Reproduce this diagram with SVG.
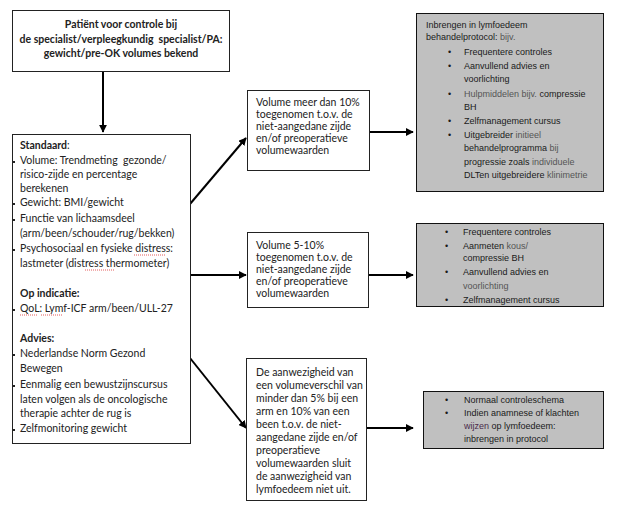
<svg xmlns="http://www.w3.org/2000/svg" width="617" height="513" viewBox="0 0 617 513">
<style>
.box{fill:#fff;stroke:#222;stroke-width:1}
.gbox{fill:#c0c0c0;stroke:#111;stroke-width:1}
.t{font-family:Lato,"Liberation Sans",sans-serif;font-size:10.5px;fill:#222}
.b{font-weight:bold}
.a{font-family:"Liberation Sans",Arial,sans-serif;font-size:9px;fill:#1a1a1a}
.g{fill:#555}
.conn{stroke:#000;stroke-width:2;fill:none}
.sq{fill:#222}
.red{stroke:#d33;stroke-width:0.8;fill:none;stroke-dasharray:1 1}
</style>
<defs>
<marker id="ah" viewBox="0 0 10 10" refX="9" refY="5" markerWidth="4" markerHeight="4" orient="auto" markerUnits="strokeWidth">
<path d="M0,0 L10,5 L0,10 z" fill="#000"/>
</marker>
</defs>

<g id="connectors">
<line class="conn" x1="103" y1="72" x2="103" y2="132" marker-end="url(#ah)"/>
<line class="conn" x1="190" y1="204" x2="246" y2="138" marker-end="url(#ah)"/>
<line class="conn" x1="190" y1="275" x2="246" y2="275" marker-end="url(#ah)"/>
<line class="conn" x1="190" y1="358" x2="246" y2="428" marker-end="url(#ah)"/>
<line class="conn" x1="370" y1="132" x2="413" y2="132" marker-end="url(#ah)"/>
<line class="conn" x1="368" y1="275" x2="413" y2="275" marker-end="url(#ah)"/>
<line class="conn" x1="366" y1="428" x2="413" y2="428" marker-end="url(#ah)"/>
</g>

<g id="start">
<rect class="box" x="12.5" y="10.5" width="217" height="61"/>
<text class="t b" text-anchor="middle" x="121" y="28">Patiënt voor controle bij</text>
<text class="t b" text-anchor="middle" x="121" y="43">de specialist/verpleegkundig&#160; specialist/PA:</text>
<text class="t b" text-anchor="middle" x="121" y="57">gewicht/pre-OK volumes bekend</text>
</g>

<g id="standaard">
<rect class="box" x="12.5" y="134.5" width="178" height="309"/>
<text class="t" x="20" y="149"><tspan class="b">Standaard</tspan>:</text>
<rect class="sq" x="13" y="161" width="2" height="2"/>
<text class="t" x="20" y="164">Volume: Trendmeting&#160; gezonde/</text>
<text class="t" x="20" y="178">risico-zijde en percentage</text>
<text class="t" x="20" y="192">berekenen</text>
<rect class="sq" x="13" y="203" width="2" height="2"/>
<text class="t" x="20" y="206">Gewicht: BMI/gewicht</text>
<rect class="sq" x="13" y="219" width="2" height="2"/>
<text class="t" x="20" y="222">Functie van lichaamsdeel</text>
<text class="t" x="20" y="237">(arm/been/schouder/rug/bekken)</text>
<rect class="sq" x="13" y="249" width="2" height="2"/>
<text class="t" x="20" y="252">Psychosociaal en fysieke distress:</text>
<text class="t" x="20" y="267">lastmeter (distress thermometer)</text>
<text class="t b" x="20" y="297">Op indicatie:</text>
<rect class="sq" x="13" y="309" width="2" height="2"/>
<text class="t" x="20" y="312">QoL: Lymf-ICF arm/been/ULL-27</text>
<text class="t b" x="20" y="342">Advies:</text>
<rect class="sq" x="13" y="354" width="2" height="2"/>
<text class="t" x="20" y="357">Nederlandse Norm Gezond</text>
<text class="t" x="20" y="372">Bewegen</text>
<rect class="sq" x="13" y="385" width="2" height="2"/>
<text class="t" x="20" y="388">Eenmalig een bewustzijnscursus</text>
<text class="t" x="20" y="403">laten volgen als de oncologische</text>
<text class="t" x="20" y="417">therapie achter de rug is</text>
<rect class="sq" x="13" y="429" width="2" height="2"/>
<text class="t" x="20" y="432">Zelfmonitoring gewicht</text>
<path class="red" d="M134,255 h32 M85,270 h29 M20,315 h17 M41,315 h21"/>
</g>

<g id="meer10">
<rect class="box" x="247.5" y="90.5" width="122" height="80"/>
<text class="t" x="256" y="106">Volume meer dan 10%</text>
<text class="t" x="256" y="118">toegenomen t.o.v. de</text>
<text class="t" x="256" y="130">niet-aangedane zijde</text>
<text class="t" x="256" y="142">en/of preoperatieve</text>
<text class="t" x="256" y="154">volumewaarden</text>
</g>

<g id="vijf10">
<rect class="box" x="247.5" y="232.5" width="121" height="75"/>
<text class="t" x="256" y="249">Volume 5-10%</text>
<text class="t" x="256" y="261">toegenomen t.o.v. de</text>
<text class="t" x="256" y="273">niet-aangedane zijde</text>
<text class="t" x="256" y="285">en/of preoperatieve</text>
<text class="t" x="256" y="297">volumewaarden</text>
</g>

<g id="minder5">
<rect class="box" x="246.5" y="358.5" width="120" height="142"/>
<text class="t" x="256" y="376">De aanwezigheid van</text>
<text class="t" x="256" y="389">een volumeverschil van</text>
<text class="t" x="256" y="402">minder dan 5% bij een</text>
<text class="t" x="256" y="415">arm en 10% van een</text>
<text class="t" x="256" y="428">been t.o.v. de niet-</text>
<text class="t" x="256" y="441">aangedane zijde en/of</text>
<text class="t" x="256" y="454">preoperatieve</text>
<text class="t" x="256" y="467">volumewaarden sluit</text>
<text class="t" x="256" y="480">de aanwezigheid van</text>
<text class="t" x="256" y="493">lymfoedeem niet uit.</text>
</g>

<g id="protocol">
<rect class="gbox" x="416.5" y="13.5" width="187" height="178"/>
<text class="a" x="426" y="28">Inbrengen in lymfoedeem</text>
<text class="a" x="426" y="40">behandelprotocol: <tspan class="g">bijv.</tspan></text>
<text class="a" x="448" y="55">•</text><text class="a" x="464" y="55">Frequentere controles</text>
<text class="a" x="448" y="69">•</text><text class="a" x="464" y="69">Aanvullend advies en</text>
<text class="a" x="464" y="82">voorlichting</text>
<text class="a" x="448" y="97">•</text><text class="a" x="464" y="97"><tspan class="g">Hulpmiddelen bijv.</tspan> compressie</text>
<text class="a" x="464" y="110">BH</text>
<text class="a" x="448" y="124">•</text><text class="a" x="464" y="124">Zelfmanagement cursus</text>
<text class="a" x="448" y="138">•</text><text class="a" x="464" y="138">Uitgebreider <tspan class="g">initieel</tspan></text>
<text class="a" x="464" y="151">behandelprogramma <tspan class="g">bij</tspan></text>
<text class="a" x="464" y="165">progressie zoals <tspan class="g">individuele</tspan></text>
<text class="a" x="464" y="178">DLTen uitgebreidere <tspan class="g">klinimetrie</tspan></text>
</g>

<g id="frequentere">
<rect class="gbox" x="416.5" y="223.5" width="187" height="83"/>
<text class="a" x="445" y="235">•</text><text class="a" x="463" y="235">Frequentere controles</text>
<text class="a" x="445" y="249">•</text><text class="a" x="463" y="249">Aanmeten <tspan class="g">kous/</tspan></text>
<text class="a" x="463" y="261">compressie BH</text>
<text class="a" x="445" y="275">•</text><text class="a" x="463" y="275">Aanvullend advies en</text>
<text class="a" x="463" y="289"><tspan class="g">voorlichting</tspan></text>
<text class="a" x="445" y="303">•</text><text class="a" x="463" y="303">Zelfmanagement cursus</text>
</g>

<g id="normaal">
<rect class="gbox" x="423.5" y="391.5" width="180" height="57"/>
<text class="a" x="445" y="403">•</text><text class="a" x="464" y="403">Normaal controleschema</text>
<text class="a" x="445" y="416">•</text><text class="a" x="464" y="416">Indien anamnese of klachten</text>
<text class="a" x="464" y="429"><tspan fill="#4a2a4a">wijzen</tspan> op lymfoedeem:</text>
<text class="a" x="464" y="442">inbrengen in protocol</text>
</g>
</svg>
